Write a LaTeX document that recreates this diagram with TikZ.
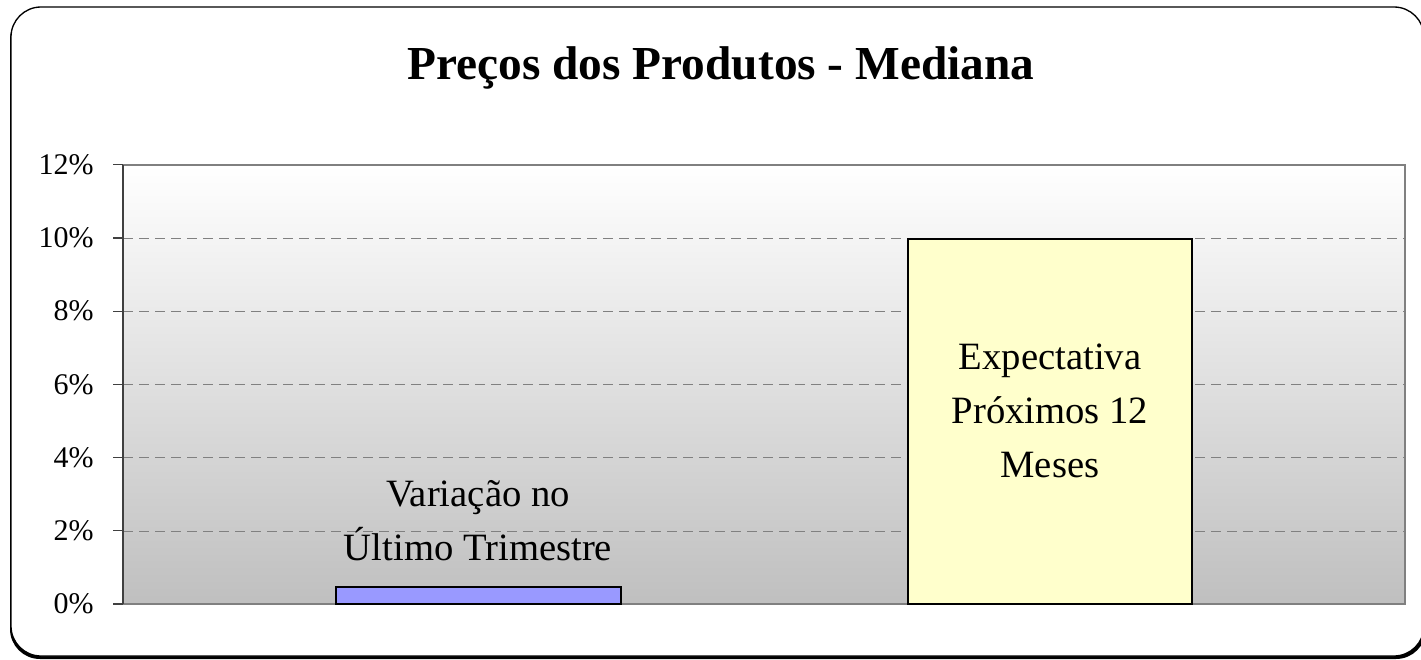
\documentclass[tikz,border=0pt]{standalone}
\usepackage{fontspec}
\setmainfont{Liberation Serif}
\definecolor{barblue}{HTML}{9999FF}
\definecolor{baryellow}{HTML}{FFFFCC}
\definecolor{gridgray}{HTML}{808080}
\begin{document}
\begin{tikzpicture}[x=0.75pt,y=-0.75pt,
        barlabel/.style={align=center,font=\fontsize{29}{40.5}\selectfont},
        ticklabel/.style={anchor=east,inner sep=0pt,font=\fontsize{22.5}{26}\selectfont},
        bar/.style={draw=black,line width=1.5pt}]

            \useasboundingbox (0,0) rectangle (1421,660);
            \clip (0,0) rectangle (1421,660);

            \fill [black, rounded corners=22.5pt] (10,10) rectangle (1426,659);
            \draw [fill=white, line width=1pt, rounded corners=22.5pt] (11,7) rectangle (1424,656);

            \node [font=\bfseries\fontsize{35.5}{40}\selectfont] (title) at (721,68) {Preços dos Produtos - Mediana};

            \shade [top color=white, bottom color=black!25] (123,165) rectangle (1405,604);
            \foreach \v in {2,4,...,10}
                \draw [gridgray, dash pattern=on 7.5pt off 4.5pt] (123,{604-36.6*\v}) -- (1405,{604-36.6*\v});
            \draw [gridgray, line width=1.5pt] (123,165) rectangle (1405,604);
            \draw [black!75, line width=1pt] (123,165) -- (123,604);

            \foreach \v in {0,2,...,12} {
                \draw [black!75, line width=1pt] (113,{604-36.6*\v}) -- (123,{604-36.6*\v});
                \node [ticklabel] (t\v) at (94,{604-36.6*\v}) {\v\%};
            }

            \draw [bar, fill=barblue] (336,587) rectangle (621,604);
            \draw [bar, fill=baryellow] (908,239) rectangle (1192,604);

            \node [barlabel] (lastq) at (478,521) {Variação no\\Último Trimestre};
            \node [barlabel] (next12) at (1050,411) {Expectativa\\Próximos 12\\Meses};

        \end{tikzpicture}
\end{document}
